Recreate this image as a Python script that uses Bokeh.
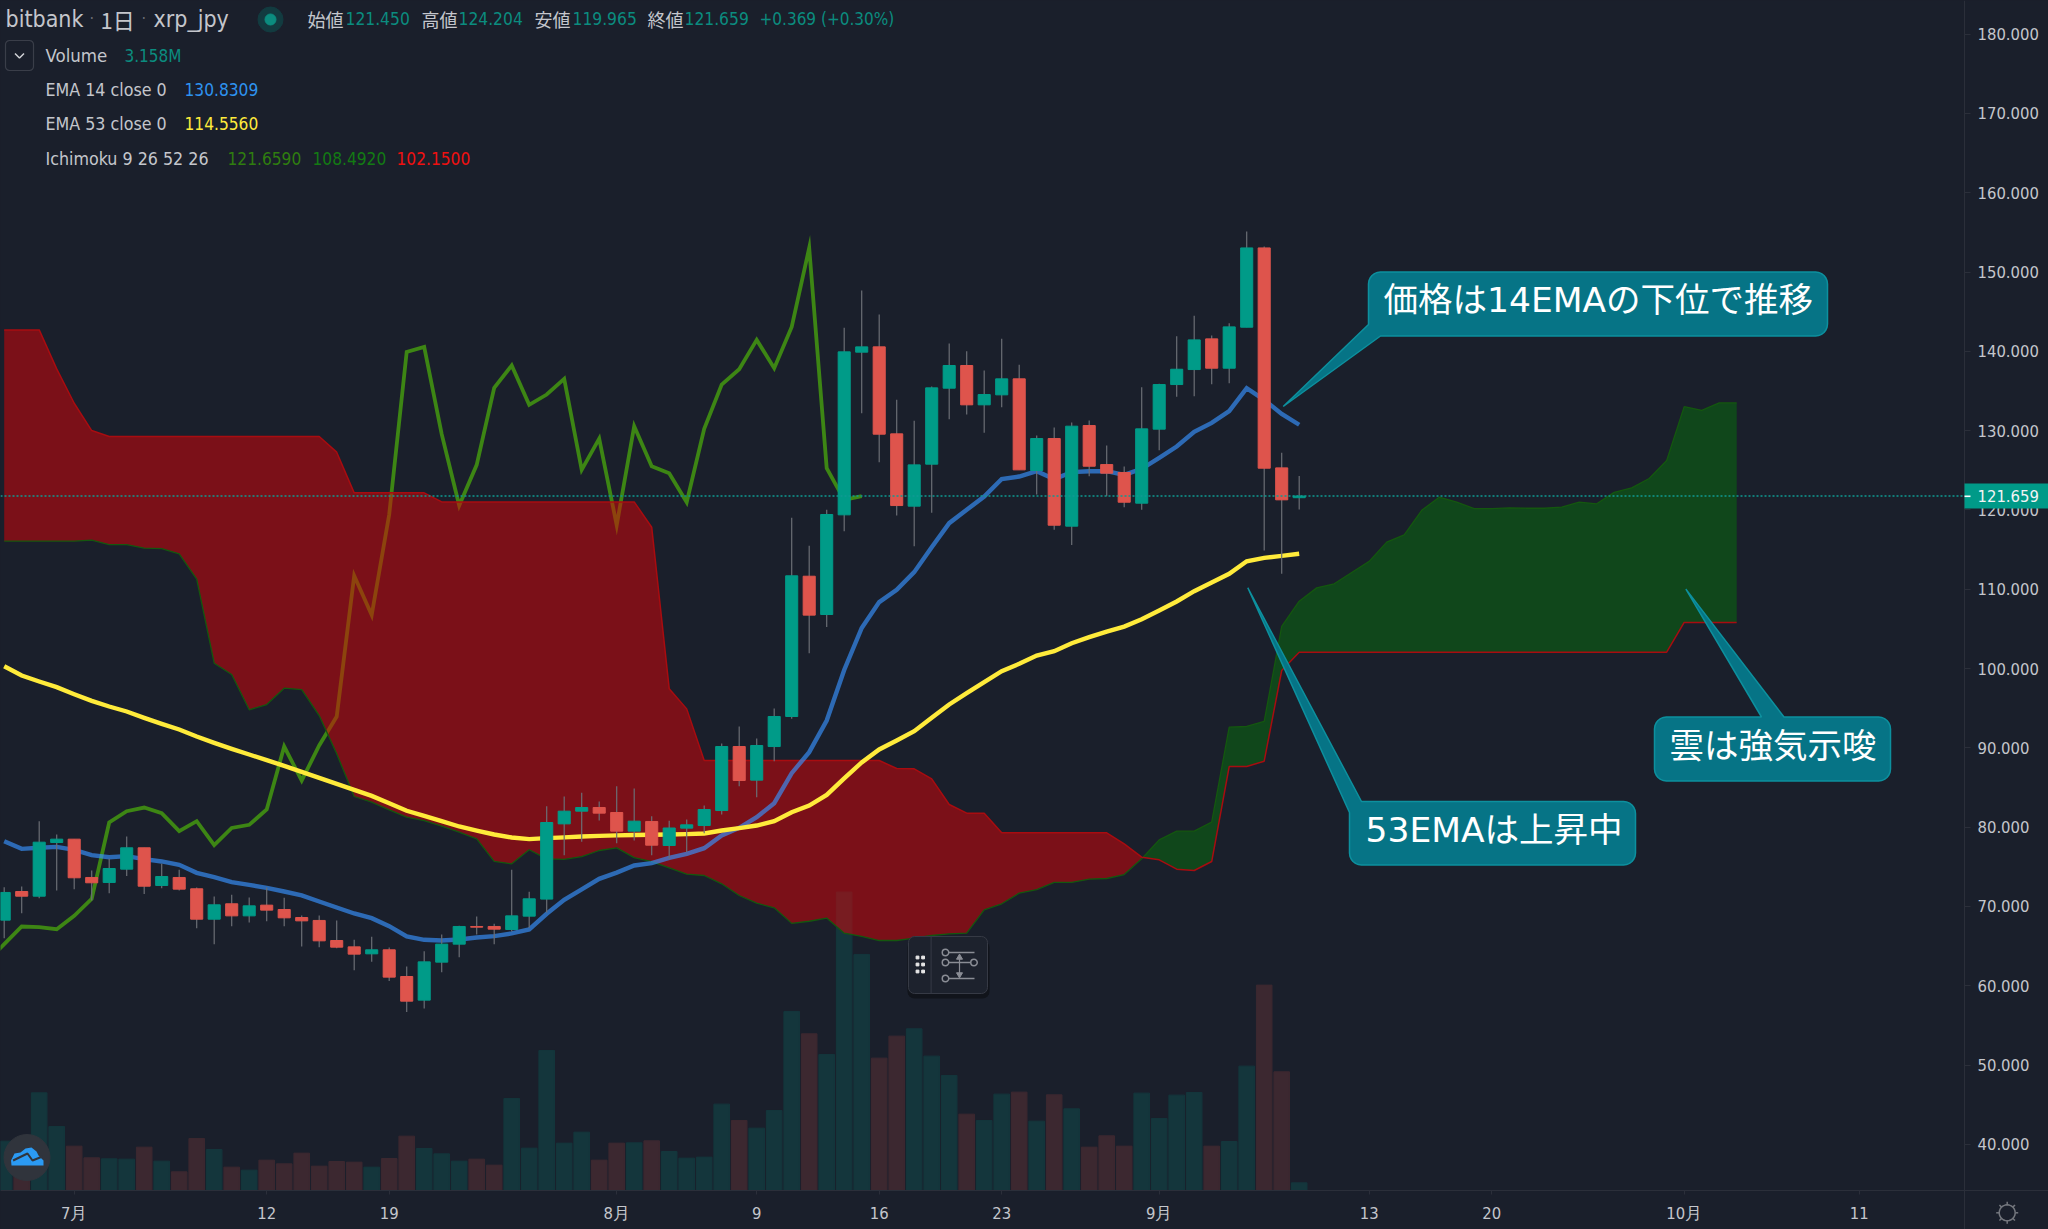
import math
from bokeh.embed import file_html
from bokeh.resources import INLINE
from bokeh.plotting import figure
from bokeh.models import (Range1d, FixedTicker, NumeralTickFormatter, Label, BoxAnnotation)

# ---------- data ----------
days = list(range(-4, 71))
opens = [68.36,71.97,71.38,78.15,78.57,73.74,73.11,74.79,77.48,72.73,73.74,72.31,68.48,70.42,68.90,70.25,69.70,68.69,68.32,65.79,64.99,64.11,64.62,61.25,58.27,63.06,65.33,67.56,67.56,67.18,68.86,71.01,80.50,82.10,82.56,81.93,79.58,80.80,
         77.77,79.96,80.29,82.18,90.25,86.01,90.25,94.04,111.73,106.90,119.47,139.98,140.65,129.68,120.56,125.86,135.44,138.30,133.34,134.60,136.62,125.06,129.09,118.04,130.73,125.81,124.81,120.94,130.27,135.90,137.79,141.66,137.96,143.13,153.13,125.39,121.63]
closes = [71.85,71.38,78.19,78.57,73.70,73.07,74.87,77.48,72.64,73.86,72.27,68.48,70.29,68.90,70.16,69.62,68.65,68.27,65.75,64.95,64.07,64.62,61.17,58.14,63.10,65.33,67.56,67.47,67.22,68.90,71.05,80.67,82.10,82.56,81.85,79.58,80.84,77.81,
          79.98,80.38,82.31,90.25,85.97,90.38,94.04,111.78,106.82,119.51,140.02,140.65,129.64,120.64,125.77,135.48,138.30,133.34,134.64,136.62,125.14,129.09,118.16,130.65,125.60,124.72,121.06,130.31,135.90,137.83,141.53,137.96,143.17,153.13,125.35,121.36,121.84]
highs = [72.52,72.60,80.84,79.16,78.57,74.62,76.09,78.91,77.48,75.46,74.70,72.48,71.34,71.55,71.22,72.48,71.17,68.95,68.95,68.32,65.88,66.26,64.91,62.52,64.45,66.55,67.64,68.82,67.90,74.70,71.93,82.73,83.95,84.41,83.32,85.25,84.96,81.47,
         80.88,81.05,82.81,90.63,92.77,91.26,95.04,119.09,115.56,120.10,143.05,147.75,144.73,133.97,131.32,135.65,141.07,140.10,137.67,141.66,138.38,129.47,130.48,131.11,131.36,128.21,125.56,135.57,135.99,142.00,144.56,142.08,143.63,155.19,153.30,127.29,124.38]
lows = [66.09,69.24,71.13,72.10,72.27,70.84,71.76,73.91,71.64,72.39,72.10,67.35,65.33,67.60,68.06,68.23,67.60,65.04,64.95,64.83,62.05,63.10,60.67,56.76,57.22,61.80,63.69,66.55,65.33,66.93,67.39,69.32,76.55,78.23,80.92,78.07,78.40,76.55,
        76.09,76.93,79.32,81.68,85.25,83.86,88.40,93.75,102.03,105.31,117.41,132.29,126.11,119.38,115.52,119.72,131.53,132.12,129.81,133.04,125.14,122.03,117.58,115.68,124.34,121.82,120.43,120.10,127.62,134.35,134.43,135.94,136.07,143.13,114.97,112.03,120.15]
volumes = [20.23,12.03,40.05,26.25,18.18,13.40,12.99,12.85,17.77,12.03,7.66,21.33,16.81,9.57,8.34,12.44,10.94,15.31,9.98,11.89,11.62,9.57,13.12,22.28,17.22,15.04,12.03,12.85,10.39,37.73,17.36,57.41,19.41,23.92,12.44,19.41,19.55,20.37,
           15.99,13.26,13.67,35.41,28.71,25.56,32.81,73.41,64.25,55.77,122.35,96.78,54.27,63.29,66.30,55.09,47.16,31.30,28.71,39.51,40.33,28.43,39.23,33.49,17.77,22.42,18.18,39.92,29.53,39.10,40.19,18.18,20.09,50.99,84.21,48.67,3.158]
ema14 = [78.32,77.35,77.48,77.60,77.23,76.55,76.30,76.43,76.05,75.76,75.33,74.33,73.78,73.15,72.81,72.43,71.97,71.47,70.71,69.95,69.20,68.61,67.60,66.30,65.88,65.79,65.92,66.17,66.34,66.68,67.18,69.16,70.92,72.25,73.57,74.35,75.25,75.55,
         76.21,76.72,77.43,79.03,80.0,81.34,83.11,86.89,89.54,93.53,99.9,105.2,108.46,110.01,112.24,115.39,118.42,120.10,121.78,123.98,124.30,124.97,123.97,124.85,124.97,124.97,124.51,125.27,126.65,128.08,129.93,131.07,132.54,135.44,133.97,132.20,130.83]
ema53 = [100.38,99.21,98.45,97.74,96.85,96.01,95.30,94.67,93.87,93.11,92.40,91.51,90.72,89.96,89.25,88.53,87.82,87.06,86.30,85.55,84.79,84.03,83.10,82.15,81.5,80.85,80.17,79.66,79.16,78.78,78.57,78.70,78.80,78.90,78.99,79.05,79.10,79.12,
         79.16,79.20,79.28,79.66,79.96,80.29,80.84,81.97,82.81,84.15,86.24,88.24,89.88,91.01,92.19,93.87,95.55,96.98,98.37,99.75,100.68,101.73,102.27,103.28,104.04,104.75,105.38,106.31,107.40,108.54,109.84,110.93,112.03,113.62,114.04,114.29,114.556]
chikou_days = list(range(-5, 46))
chikou = [63.10,65.33,67.56,67.47,67.22,68.90,71.05,80.67,82.10,82.56,81.85,79.58,80.84,77.81,79.98,80.38,82.31,90.25,85.97,90.38,94.04,111.78,106.82,119.51,140.02,140.65,129.64,120.64,125.77,135.48,138.30,133.34,134.64,136.62,125.14,129.09,118.16,130.65,125.60,124.72,121.06,130.31,135.90,137.83,141.53,137.96,143.17,153.13,125.35,121.36,121.84]
cloud_days = list(range(-4, 96))
senkou_a = [116.15,116.15,116.15,116.15,116.15,116.27,115.72,115.72,115.26,115.22,114.55,111.35,100.76,99.33,94.88,95.55,97.61,97.44,94.16,89.33,83.95,83.24,82.27,81.34,80.92,80.21,79.45,78.61,75.76,75.46,77.23,76.09,76.03,76.38,77.14,77.48,76.25,75.75,74.95,74.16,73.99,72.94,71.47,70.50,69.91,67.95,68.22,68.62,66.72,66.30,65.79,65.79,66.1,66.42,66.63,66.72,69.66,70.42,71.76,72.22,73.11,73.11,73.53,73.61,74.11,76.1,78.48,79.58,79.58,80.71,92.69,92.78,93.41,105.4,108.58,110.26,110.77,112.2,113.6,116.03,116.95,120.04,121.69,121.07,120.25,120.25,120.35,120.30,120.30,120.45,121.07,120.86,122.30,122.87,124.05,126.32,133.11,132.65,133.58,133.58]
senkou_b = [142.79,142.79,142.79,137.87,133.54,130.10,129.34,129.34,129.34,129.34,129.34,129.34,129.34,129.34,129.34,129.34,129.34,129.34,129.34,127.37,122.24,122.24,122.24,122.24,122.24,121.10,121.10,121.10,121.10,121.10,121.10,121.10,121.10,121.10,121.10,121.10,121.10,117.91,97.55,95.00,88.49,88.49,88.49,88.49,88.49,88.49,88.49,88.49,88.49,88.49,88.49,87.48,87.44,86.18,82.94,81.85,81.85,79.37,79.37,79.37,79.37,79.37,79.37,79.37,77.98,76.30,75.96,74.79,74.62,75.75,87.73,87.73,88.40,99.84,102.15,102.15,102.15,102.15,102.15,102.15,102.15,102.15,102.15,102.15,102.15,102.15,102.15,102.15,102.15,102.15,102.15,102.15,102.15,102.15,102.15,102.15,105.9,105.9,105.9,105.9]
price_ticks = [40,50,60,70,80,90,100,110,120,130,140,150,160,170,180]
date_ticks = [0,11,18,31,39,46,53,62,74,81,92,102]
date_labels = ["7月","12","19","8月","9","16","23","9月","13","20","10月","11"]
last_close = 121.659

# the values above were read against the label centres, which sit 1.4px below the axis ticks
READ_OFFSET = 0.18
opens, closes, highs, lows, ema14, ema53, chikou, senkou_a, senkou_b = [
    [v - READ_OFFSET for v in series]
    for series in (opens, closes, highs, lows, ema14, ema53, chikou, senkou_a, senkou_b)]

# ---------- page geometry: the frame fills the page, the axes are pinned inside it ----------
BG = "#1a1f2b"
W, H, FW, FH = 2048, 1229, 1964, 1190
X = lambda px: (px - 73.7) / 17.5
Y = lambda py: 150 - (py - 270.8) / 7.93
YLAB = lambda py: Y(py - 0.7)
XS = lambda a: [X(v) for v in a]
YS = lambda a: [Y(v) for v in a]

p = figure(width=W, height=H, output_backend="svg", toolbar_location=None,
           x_range=Range1d(X(0), X(W)), y_range=Range1d(Y(H), Y(0)),
           x_axis_location="below", y_axis_location="right",
           background_fill_color=BG, border_fill_color=BG,
           min_border_left=0, min_border_top=0, min_border_right=0, min_border_bottom=0)
p.grid.visible = False
p.outline_line_color = None
p.extra_y_ranges = {"vol": Range1d((FH - H) * 0.41, FH * 0.41),
                    "axis": Range1d(YLAB(H), YLAB(0))}

FONT = "DejaVu Sans Condensed"
TXT = "#c4c6cc"
AX = "#2b2f3a"
ya = p.yaxis[0]
ya.y_range_name = "axis"
ya.fixed_location = X(FW)
ya.ticker = FixedTicker(ticks=price_ticks)
ya.formatter = NumeralTickFormatter(format="0.000")
xa = p.xaxis[0]
xa.fixed_location = Y(FH)
xa.ticker = FixedTicker(ticks=date_ticks)
xa.major_label_overrides = dict(zip(date_ticks, date_labels))
for a, out, stand in ((ya, 6, 7), (xa, 4, 9)):
    a.axis_line_color = AX
    a.major_tick_line_color = AX
    a.minor_tick_line_color = None
    a.major_tick_out = out
    a.major_tick_in = 0
    a.major_label_standoff = stand
    a.major_label_text_color = TXT
    a.major_label_text_font = FONT
    a.major_label_text_font_size = "16.5px"

# ---------- volume ----------
UP, DN = "#009b88", "#de544c"
up = [c >= o for o, c in zip(opens, closes)]
vcol = ["#14363c" if u else "#3c2830" for u in up]
p.vbar(x=days, top=volumes, bottom=0, width=0.89, color=vcol, y_range_name="vol")

# ---------- ichimoku ----------
p.line(chikou_days, chikou, line_color="#3d8614", line_width=3.8, line_join="miter")
split = cloud_days.index(61)
p.varea(x=cloud_days[:split+1], y1=senkou_a[:split+1], y2=senkou_b[:split+1], fill_color="#dc0105", fill_alpha=0.5)
p.varea(x=cloud_days[split:], y1=senkou_a[split:], y2=senkou_b[split:], fill_color="#066f0b", fill_alpha=0.5)
p.line(cloud_days, senkou_a, line_color="#14570f", line_width=1.3)
p.line(cloud_days, senkou_b, line_color="#a80c10", line_width=1.5)

# ---------- EMAs ----------
p.line(days, ema14, line_color="#3794ff", line_alpha=0.65, line_width=4.4, line_join="miter")
p.line(days, ema53, line_color="#ffeb3b", line_width=4.4, line_join="miter")

# ---------- candles ----------
p.segment(days, highs, days, lows, line_color="#6b6e75", line_width=1.2)
p.vbar(x=days, top=[max(a, b) for a, b in zip(opens, closes)], bottom=[min(a, b) for a, b in zip(opens, closes)],
       width=0.69, fill_color=[UP if u else DN for u in up], line_color=[UP if u else DN for u in up], line_width=1)

# ---------- last price line ----------
p.segment([X(0)], [last_close], [X(FW)], [last_close], line_color="#0f9a92", line_width=1.5, line_dash="2 2")

# ---------- callouts ----------
def arc(cx, cy, r, a0, a1, n=6):
    return [(cx + r*math.cos(math.radians(a0 + (a1-a0)*i/n)), cy + r*math.sin(math.radians(a0 + (a1-a0)*i/n))) for i in range(n+1)]

CALLOUT_FONT = "DejaVu Sans, 'Noto Sans CJK JP'"

def callout(x0, y0, x1, y1, tip, base, where, text, tx, ty, size=34.5, r=12):
    tl = arc(x0+r, y0+r, r, 180, 270)
    tr = arc(x1-r, y0+r, r, 270, 360)
    br = arc(x1-r, y1-r, r, 0, 90)
    bl = arc(x0+r, y1-r, r, 90, 180)
    if where == "bl":
        pts = [base[1], tip, base[0]] + tl + tr + br
    elif where == "tl":
        pts = [base[0]] + tr + br + bl + [base[1], tip]
    else:
        pts = tl + [base[0], tip, base[1]] + tr + br + bl
    p.patch(XS([q[0] for q in pts]), YS([q[1] for q in pts]), fill_color="#05788a", fill_alpha=0.96,
            line_color="#0d909e", line_width=1.5)
    p.add_layout(Label(x=X(tx), y=Y(ty), text=text, text_color="#ffffff", text_font=CALLOUT_FONT,
                       text_font_size=f"{size}px", text_baseline="middle", text_align="left"))

callout(1368, 271.5, 1827, 335.5, (1282.7, 406), [(1368, 324), (1380, 335.5)], "bl", "価格は14EMAの下位で推移", 1383, 299.5)
callout(1654, 716.5, 1890, 780.5, (1685.4, 588.6), [(1761, 716.5), (1783.5, 716.5)], "top", "雲は強気示唆", 1669, 745.5)
callout(1349, 801, 1635, 864.5, (1247.3, 587.3), [(1361, 801), (1349, 812)], "tl", "53EMAは上昇中", 1365, 829.5)

# ---------- floating widget ----------
def rrect(x0, y0, x1, y1, r):
    pts = arc(x0+r, y0+r, r, 180, 270, 4) + arc(x1-r, y0+r, r, 270, 360, 4) + arc(x1-r, y1-r, r, 0, 90, 4) + arc(x0+r, y1-r, r, 90, 180, 4)
    return XS([q[0] for q in pts]), YS([q[1] for q in pts])

sx, sy = rrect(907, 940, 989, 998, 7)
p.patch(sx, sy, fill_color="#11141b", line_color=None)
wx, wy = rrect(908, 936, 987, 993, 6)
p.patch(wx, wy, fill_color="#1d222d", line_color="#363a45", line_width=1)
p.line(XS([930.6, 930.6]), YS([936, 993]), line_color="#363a45", line_width=1)
p.scatter(XS([917, 922.6]*3), YS([957, 957, 964, 964, 971, 971]), marker="square", size=2.8, color="#e8e8e8")
ICON = "#8a8d95"
for a, b, yy in ((945, 974, 952), (945, 973.5, 962), (945, 974, 978)):
    p.line(XS([a, b]), YS([yy, yy]), line_color=ICON, line_width=1.5)
p.scatter(XS([945, 945, 973.5, 945]), YS([952, 962, 962, 978]), marker="circle", size=6.5,
          fill_color="#1d222d", line_color=ICON, line_width=1.5)
p.line(XS([959, 959]), YS([956, 975]), line_color=ICON, line_width=1.2)
p.scatter(XS([959]), YS([957]), marker="triangle", size=6, color=ICON)
p.scatter(XS([959]), YS([974]), marker="inverted_triangle", size=6, color=ICON)

# ---------- bottom-left logo ----------
p.scatter(XS([26.5]), YS([1157]), marker="circle", size=46, color="#30343c")
p.patch(XS([10.5,14,20,25,31,36,38,43,43,11]), YS([1160,1153,1152,1148,1147,1151,1155,1160,1165,1165]), fill_color="#2b9af3", line_color=None)
p.line(XS([12.6,27,32,42]), YS([1160,1153,1160,1156]), line_color="#30343c", line_width=2)

# ---------- legend chevron and status dot ----------
cx, cy = rrect(5, 40, 33, 70, 4)
p.patch(cx, cy, fill_alpha=0, line_color="#3a3e49", line_width=1.2)
p.line(XS([14.5, 19, 23.5]), YS([53, 57.5, 53]), line_color="#d0d2d6", line_width=1.5)
p.scatter(XS([270]), YS([19]), marker="circle", size=25, color="#123b40")
p.scatter(XS([270]), YS([19]), marker="circle", size=11, color="#0b8c7f")

# ---------- corner icon ----------
GEAR = "#74777e"
gear = arc(2006.7, 1212.3, 8, 0, 360, 24)
p.line(XS([q[0] for q in gear]), YS([q[1] for q in gear]), line_color=GEAR, line_width=1.5)
for k in range(8):
    c, s = math.cos(k*math.pi/4), math.sin(k*math.pi/4)
    p.line(XS([2006.7+8*c, 2006.7+11*c]), YS([1212.3+8*s, 1212.3+11*s]), line_color=GEAR, line_width=1.5)

# ---------- header texts ----------
def txt(px, py, s, color=TXT, size=16, font=FONT):
    p.add_layout(Label(x=X(px), y=Y(py - 1), text=s, text_color=color, text_font=font, text_font_size=f"{size}px",
                       text_baseline="middle", text_align="left"))

TEAL = "#0b8c7f"
txt(5, 19, "bitbank", size=23)
txt(89, 19, "·", color="#6b6e75", size=16)
txt(100, 19, "1日", size=22, font="Noto Sans CJK JP")
txt(141, 19, "·", color="#6b6e75", size=16)
txt(153, 19, "xrp_jpy", size=23)
for lx, lab, vx, val in ((307, "始値", 345, "121.450"), (421, "高値", 458, "124.204"),
                         (534, "安値", 572, "119.965"), (647, "終値", 684, "121.659")):
    txt(lx, 19, lab, size=18, font="Noto Sans CJK JP")
    txt(vx, 19, val, color=TEAL, size=17.3)
txt(759, 19, "+0.369 (+0.30%)", color=TEAL, size=17)
txt(45, 56, "Volume", size=18.5)
txt(124, 56, "3.158M", color=TEAL, size=17)
txt(45, 90, "EMA 14 close 0", size=17.7)
txt(184, 90, "130.8309", color="#2e93f0", size=17.2)
txt(45, 124, "EMA 53 close 0", size=17.7)
txt(184, 124, "114.5560", color="#ffeb3b", size=17.2)
txt(45, 159, "Ichimoku 9 26 52 26", size=17.7)
txt(227, 159, "121.6590", color="#2f7d0f", size=17.2)
txt(312, 159, "108.4920", color="#137a13", size=17.2)
txt(396, 159, "102.1500", color="#f01010", size=17.2)

# ---------- price tag ----------
p.add_layout(BoxAnnotation(left=X(FW), right=X(W), top=Y(483), bottom=Y(508), fill_color="#009a88", fill_alpha=1,
                           line_color=None))
p.add_layout(BoxAnnotation(left=X(FW), right=X(FW+6), top=Y(495), bottom=Y(496.6), fill_color="#ffffff", fill_alpha=1,
                           line_color=None))
txt(1977, 496.6, "121.659", color="#f2f4f5", size=16.5)

html = file_html(p, INLINE)
html = html.replace("</head>", "<style>html,body{margin:0;padding:0;background:#1a1f2b;overflow:hidden}</style></head>", 1)
open("out.html", "w", encoding="utf-8").write(html)
